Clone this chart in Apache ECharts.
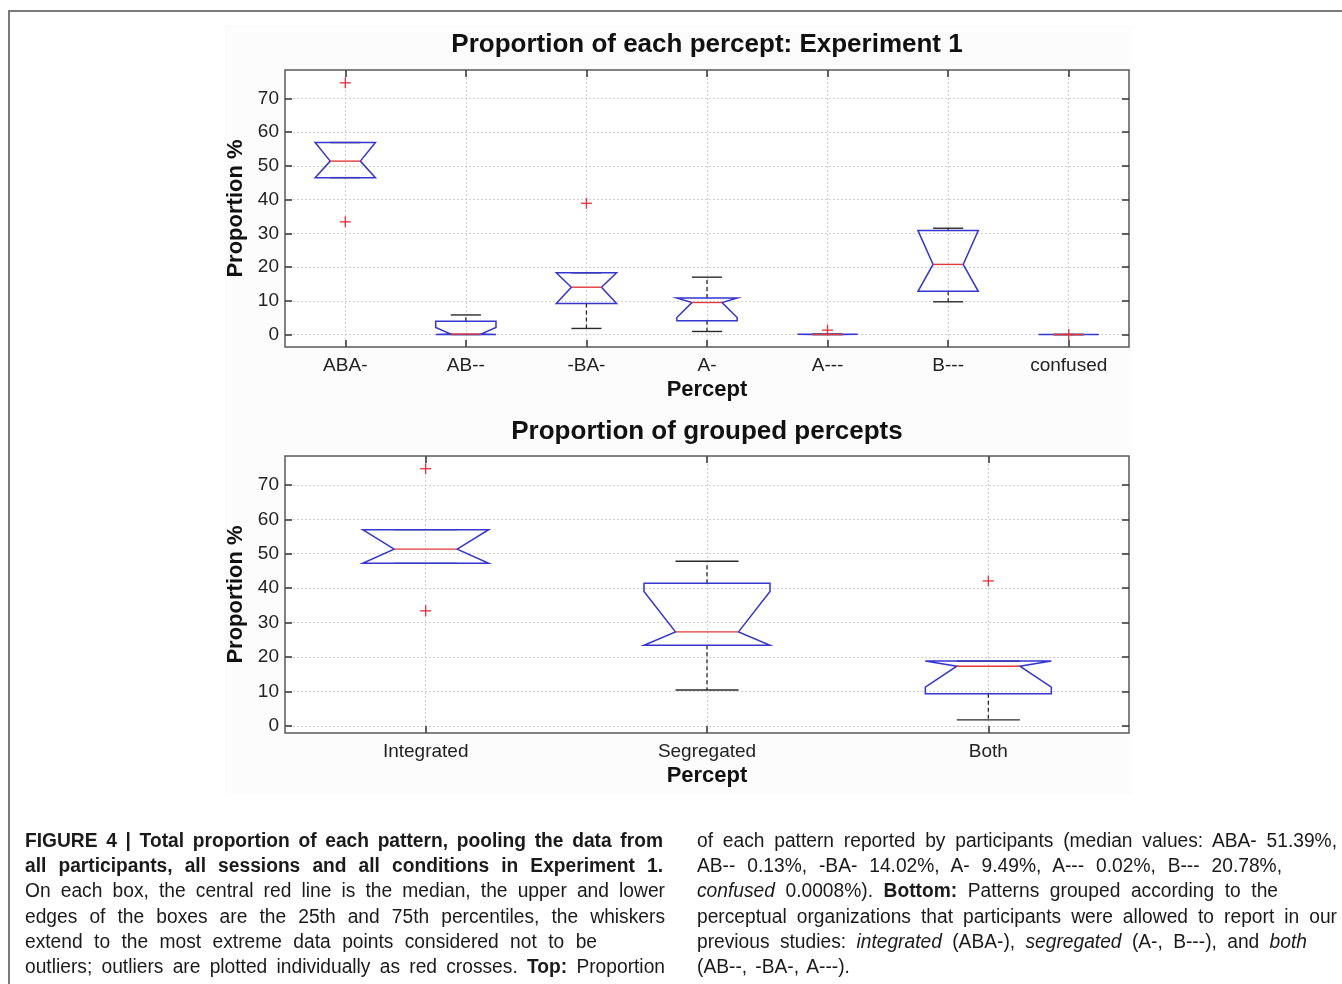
<!DOCTYPE html>
<html>
<head>
<meta charset="utf-8">
<script src="https://cdn.jsdelivr.net/npm/echarts@6/dist/echarts.min.js"></script>
<style>
html,body{margin:0;padding:0;background:#fff;}
#wrap{position:relative;width:1342px;height:984px;overflow:hidden;background:#fff;}
#chart{position:absolute;left:0;top:0;width:1342px;height:984px;}
#frame{position:absolute;left:8px;top:10px;width:1400px;height:1000px;border-left:2px solid #7a7a7a;border-top:2px solid #7a7a7a;pointer-events:none;}
.cap{position:absolute;font-family:"Liberation Sans",Arial,sans-serif;font-size:20px;color:#1a1a1a;transform-origin:0 0;}
.cap div{height:25.2px;line-height:25.2px;text-align:justify;text-align-last:justify;overflow:visible;white-space:normal;}
.cap div.l{text-align:left;text-align-last:left;white-space:nowrap;word-spacing:3px;}
</style>
</head>
<body>
<div id="wrap">
<div id="chart"></div>
<div id="frame"></div>
<div class="cap" id="capL" style="left:25px;top:828px;">
<div data-w="638"><b>FIGURE 4 | Total proportion of each pattern, pooling the data from</b></div>
<div data-w="638"><b>all participants, all sessions and all conditions in Experiment 1.</b></div>
<div data-w="640">On each box, the central red line is the median, the upper and lower</div>
<div data-w="640">edges of the boxes are the 25th and 75th percentiles, the whiskers</div>
<div data-w="572">extend to the most extreme data points considered not to be</div>
<div data-w="640">outliers; outliers are plotted individually as red crosses. <b>Top:</b> Proportion</div>
</div>
<div class="cap" id="capR" style="left:697px;top:828px;">
<div data-w="640">of each pattern reported by participants (median values: ABA- 51.39%,</div>
<div data-w="585">AB-- 0.13%, -BA- 14.02%, A- 9.49%, A--- 0.02%, B--- 20.78%,</div>
<div data-w="581"><i>confused</i> 0.0008%). <b>Bottom:</b> Patterns grouped according to the</div>
<div data-w="640">perceptual organizations that participants were allowed to report in our</div>
<div data-w="610">previous studies: <i>integrated</i> (ABA-), <i>segregated</i> (A-, B---), and <i>both</i></div>
<div class="l">(AB--, -BA-, A---).</div>
</div>
</div>
<script>
// ---------- Top chart data (Experiment 1, each percept) ----------
const topCategories = ['ABA-', 'AB--', '-BA-', 'A-', 'A---', 'B---', 'confused'];
const topQ1        = [46.5, 0.0, 9.2, 4.1, 0.0, 12.8, 0.0];
const topNotchLow  = [46.5, 0.0, 9.2, 5.05, 0.0, 12.8, 0.0];
const topMedian    = [51.39, 0.13, 14.02, 9.49, 0.02, 20.78, 0.0008];
const topNotchHigh = [56.9, 2.1, 18.3, 10.8, 0.1, 30.8, 0.0];
const topQ3        = [56.9, 3.9, 18.3, 10.8, 0.1, 30.8, 0.0];
const topWhiskerLow  = [46.5, 0.0, 1.8, 0.9, 0.0, 9.7, 0.0];
const topWhiskerHigh = [56.9, 5.8, 18.3, 17.0, 0.1, 31.5, 0.0];
const topOutliers = [[0, 74.6], [0, 33.4], [2, 38.9], [4, 1.3], [6, 0.0]];

// ---------- Bottom chart data (grouped percepts) ----------
const bottomCategories = ['Integrated', 'Segregated', 'Both'];
const bottomQ1        = [47.2, 23.4, 9.3];
const bottomNotchLow  = [47.2, 23.4, 11.2];
const bottomMedian    = [51.35, 27.3, 17.3];
const bottomNotchHigh = [57.0, 39.0, 18.8];
const bottomQ3        = [57.0, 41.4, 18.8];
const bottomWhiskerLow  = [47.2, 10.4, 1.7];
const bottomWhiskerHigh = [57.0, 47.8, 18.8];
const bottomOutliers = [[0, 74.7], [0, 33.4], [2, 42.1]];

// ---------- Tick labels ----------
const yTicks = [0, 10, 20, 30, 40, 50, 60, 70];
const topYRange = [-3.7, 78.4];
const bottomYRange = [-2.1, 78.4];

// caption: slightly condensed type, justified lines
const CAP_SCALE = 0.96;
document.querySelectorAll('.cap').forEach(c => { c.style.transform = 'scaleX(' + CAP_SCALE + ')'; });
document.querySelectorAll('.cap div[data-w]').forEach(d => {
  d.style.width = (parseFloat(d.getAttribute('data-w')) / CAP_SCALE) + 'px';
});

const FONT = 'Liberation Sans';
const BOX_BLUE = '#3535cf';
const MED_RED = '#e23a3a';
const WHISK = '#2a2a2a';

function boxRows(q1, nLo, med, nHi, q3, wLo, wHi) {
  return q1.map((v, i) => [i, q1[i], nLo[i], med[i], nHi[i], q3[i], wLo[i], wHi[i]]);
}

function makeBoxRender(widthFrac) {
  return function (params, api) {
    const i = api.value(0);
    const band = api.size([1, 0])[0];
    const hw = band * widthFrac;
    const inner = hw / 2;
    const cap = hw / 2;
    const x = api.coord([i, 0])[0];
    const y = v => api.coord([i, v])[1];
    const q1 = y(api.value(1)), nLo = y(api.value(2)), med = y(api.value(3)),
          nHi = y(api.value(4)), q3 = y(api.value(5)), wLo = y(api.value(6)), wHi = y(api.value(7));
    const ch = [];
    const dash = {stroke: WHISK, lineWidth: 1.3, lineDash: [4, 3]};
    const solid = {stroke: WHISK, lineWidth: 1.4};
    if (q3 - wHi > 1) ch.push({type: 'line', shape: {x1: x, y1: q3, x2: x, y2: wHi}, style: dash});
    if (wLo - q1 > 1) ch.push({type: 'line', shape: {x1: x, y1: q1, x2: x, y2: wLo}, style: dash});
    ch.push({type: 'line', shape: {x1: x - cap, y1: wHi, x2: x + cap, y2: wHi}, style: solid});
    ch.push({type: 'line', shape: {x1: x - cap, y1: wLo, x2: x + cap, y2: wLo}, style: solid});
    ch.push({
      type: 'polygon',
      shape: {points: [
        [x - hw, q3], [x - hw, nHi], [x - inner, med], [x - hw, nLo], [x - hw, q1],
        [x + hw, q1], [x + hw, nLo], [x + inner, med], [x + hw, nHi], [x + hw, q3]
      ]},
      style: {fill: 'none', stroke: BOX_BLUE, lineWidth: 1.5}
    });
    ch.push({type: 'line', shape: {x1: x - inner, y1: med, x2: x + inner, y2: med}, style: {stroke: MED_RED, lineWidth: 1.4}});
    return {type: 'group', children: ch};
  };
}

function outlierRender(params, api) {
  const p = api.coord([api.value(0), api.value(1)]);
  const s = 5.5;
  const st = {stroke: '#e8303a', lineWidth: 1.3};
  return {type: 'group', children: [
    {type: 'line', shape: {x1: p[0] - s, y1: p[1], x2: p[0] + s, y2: p[1]}, style: st},
    {type: 'line', shape: {x1: p[0], y1: p[1] - s, x2: p[0], y2: p[1] + s}, style: st}
  ]};
}

function xAxes(gridIndex, cats) {
  const common = {
    gridIndex, type: 'category', data: cats, boundaryGap: true,
    axisLine: {show: false, onZero: false}
  };
  return [
    Object.assign({}, common, {
      position: 'bottom',
      axisTick: {show: true, inside: true, alignWithLabel: true, interval: 0, length: 7, lineStyle: {color: '#333', width: 1.5}},
      axisLabel: {interval: 0, margin: 9, fontSize: 19, color: '#222', fontFamily: FONT},
      splitLine: {show: true, alignWithLabel: true, interval: 0, lineStyle: {color: '#cfcfcf', width: 1, type: [2, 2]}},
      name: 'Percept', nameLocation: 'middle', nameGap: 32,
      nameTextStyle: {fontSize: 22, fontWeight: 'bold', color: '#111', fontFamily: FONT}
    }),
    Object.assign({}, common, {
      position: 'top',
      axisTick: {show: true, inside: true, alignWithLabel: true, interval: 0, length: 7, lineStyle: {color: '#333', width: 1.5}},
      axisLabel: {show: false},
      splitLine: {show: false}
    })
  ];
}

function yAxes(gridIndex, range) {
  const common = {gridIndex, type: 'value', min: range[0], max: range[1], axisLine: {show: false, onZero: false}};
  return [
    Object.assign({}, common, {
      position: 'left',
      axisTick: {show: true, inside: true, length: 7, customValues: yTicks, lineStyle: {color: '#333', width: 1.5}},
      axisLabel: {customValues: yTicks, margin: 6, fontSize: 19, color: '#222', fontFamily: FONT},
      splitLine: {show: true, lineStyle: {color: '#cfcfcf', width: 1, type: [2, 2]}},
      name: 'Proportion %', nameLocation: 'middle', nameGap: 34, nameRotate: 90,
      nameTextStyle: {fontSize: 22, fontWeight: 'bold', color: '#111', fontFamily: FONT}
    }),
    Object.assign({}, common, {
      position: 'right',
      axisTick: {show: true, inside: true, length: 7, customValues: yTicks, lineStyle: {color: '#333', width: 1.5}},
      axisLabel: {show: false},
      splitLine: {show: false}
    })
  ];
}

const chart = echarts.init(document.getElementById('chart'));
chart.setOption({
  animation: false,
  backgroundColor: 'transparent',
  graphic: [
    {type: 'rect', z: -1, shape: {x: 225, y: 25, width: 907, height: 770}, style: {fill: '#fcfcfc'}},
    {type: 'text', x: 707, y: 45, style: {text: 'Proportion of each percept: Experiment 1', fontSize: 26, fontWeight: 'bold', fontFamily: FONT, fill: '#111', align: 'center', verticalAlign: 'middle'}},
    {type: 'text', x: 707, y: 432, style: {text: 'Proportion of grouped percepts', fontSize: 26, fontWeight: 'bold', fontFamily: FONT, fill: '#111', align: 'center', verticalAlign: 'middle'}}
  ],
  grid: [
    {left: 285, top: 70, width: 844, height: 277, show: true, backgroundColor: '#fff', borderColor: '#5a5a5a', borderWidth: 1.5},
    {left: 285, top: 456, width: 844, height: 277, show: true, backgroundColor: '#fff', borderColor: '#5a5a5a', borderWidth: 1.5}
  ],
  xAxis: [].concat(xAxes(0, topCategories), xAxes(1, bottomCategories)),
  yAxis: [].concat(yAxes(0, topYRange), yAxes(1, bottomYRange)),
  series: [
    {type: 'custom', xAxisIndex: 0, yAxisIndex: 0, renderItem: makeBoxRender(0.25),
     data: boxRows(topQ1, topNotchLow, topMedian, topNotchHigh, topQ3, topWhiskerLow, topWhiskerHigh), z: 3},
    {type: 'custom', xAxisIndex: 0, yAxisIndex: 0, renderItem: outlierRender, data: topOutliers, z: 4},
    {type: 'custom', xAxisIndex: 2, yAxisIndex: 2, renderItem: makeBoxRender(0.224),
     data: boxRows(bottomQ1, bottomNotchLow, bottomMedian, bottomNotchHigh, bottomQ3, bottomWhiskerLow, bottomWhiskerHigh), z: 3},
    {type: 'custom', xAxisIndex: 2, yAxisIndex: 2, renderItem: outlierRender, data: bottomOutliers, z: 4}
  ]
});
</script>
</body>
</html>
